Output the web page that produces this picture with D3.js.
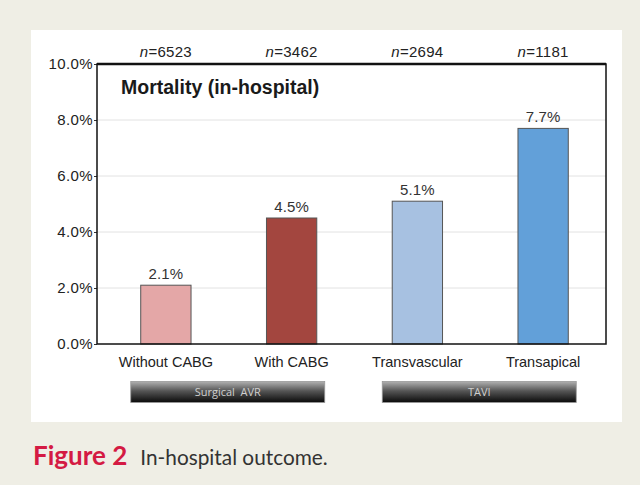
<!DOCTYPE html>
<meta charset="utf-8">
<style>
body { margin: 0; background: #efeee5; }
svg { display: block; }
</style>
<body>
<script src="https://d3js.org/d3.v7.min.js"></script>
<script>

// data
var categories = ["Without CABG", "With CABG", "Transvascular", "Transapical"];
var mortality = [2.1, 4.5, 5.1, 7.7];
var nCounts = [6523, 3462, 2694, 1181];
var barColors = ["#e4a7a7", "#a3463f", "#a7c1e1", "#62a0d9"];
var groupNames = ["Surgical  AVR", "TAVI"];
var groupFirst = [0, 2];
var groupLast = [1, 3];
var yTicks = [0, 2, 4, 6, 8, 10];

var W = 640, H = 485;
var plot = {left: 97, right: 606, top: 64, bottom: 344};
var chartFont = "Liberation Sans, Arial, sans-serif";

var svg = d3.select("body").append("svg")
    .attr("width", W)
    .attr("height", H);

// white panel
svg.append("rect")
    .attr("x", 31).attr("y", 30)
    .attr("width", 591).attr("height", 392)
    .attr("fill", "#fff");

var x = d3.scaleBand()
    .domain(categories)
    .range([plot.left + 6, plot.right])
    .paddingInner(0.6)
    .paddingOuter(0.3);

var y = d3.scaleLinear()
    .domain([0, 10])
    .range([plot.bottom, plot.top]);

// gradient for the group buttons
var defs = svg.append("defs");
var grad = defs.append("linearGradient")
    .attr("id", "btn")
    .attr("x1", 0).attr("y1", 0).attr("x2", 0).attr("y2", 1);
grad.append("stop").attr("offset", "0%").attr("stop-color", "#b0b0b0");
grad.append("stop").attr("offset", "45%").attr("stop-color", "#555");
grad.append("stop").attr("offset", "100%").attr("stop-color", "#0a0a0a");

// gridlines
svg.append("g")
    .selectAll("line")
    .data(yTicks.filter(function(d) { return d > 0 && d < 10; }))
    .enter().append("line")
      .attr("x1", plot.left).attr("x2", plot.right)
      .attr("y1", function(d) { return y(d); })
      .attr("y2", function(d) { return y(d); })
      .attr("stroke", "#e2e2e2")
      .attr("stroke-width", 1);

// y axis
var yAxis = d3.axisLeft(y)
    .tickValues(yTicks)
    .tickSize(3)
    .tickFormat(function(d) { return d.toFixed(1) + "%"; });

var ya = svg.append("g")
    .attr("transform", "translate(" + plot.left + ",0)")
    .call(yAxis);
ya.select(".domain").remove();
ya.selectAll("line").attr("stroke", "#333");
ya.selectAll("text")
    .attr("font-family", chartFont)
    .attr("font-size", 15)
    .attr("letter-spacing", 0.4)
    .attr("fill", "#222")
    .attr("x", -4);

// bars
svg.selectAll(".bar")
    .data(categories)
    .enter().append("rect")
      .attr("class", "bar")
      .attr("x", function(d) { return x(d); })
      .attr("y", function(d, i) { return y(mortality[i]); })
      .attr("width", x.bandwidth())
      .attr("height", function(d, i) { return y(0) - y(mortality[i]); })
      .attr("fill", function(d, i) { return barColors[i]; })
      .attr("stroke", "#555")
      .attr("stroke-width", 1);

// value labels
svg.selectAll(".val")
    .data(categories)
    .enter().append("text")
      .attr("x", function(d) { return x(d) + x.bandwidth() / 2; })
      .attr("y", function(d, i) { return y(mortality[i]) - 6; })
      .attr("text-anchor", "middle")
      .attr("font-family", chartFont)
      .attr("font-size", 15)
      .attr("letter-spacing", 0.2)
      .attr("fill", "#333")
      .text(function(d, i) { return mortality[i].toFixed(1) + "%"; });

// frame
svg.append("rect")
    .attr("x", plot.left).attr("y", plot.top)
    .attr("width", plot.right - plot.left)
    .attr("height", plot.bottom - plot.top)
    .attr("fill", "none")
    .attr("stroke", "#111")
    .attr("stroke-width", 1.5);
svg.append("line")
    .attr("x1", plot.left).attr("x2", plot.right)
    .attr("y1", plot.top).attr("y2", plot.top)
    .attr("stroke", "#111")
    .attr("stroke-width", 2.5);

// panel title
svg.append("text")
    .attr("x", 121).attr("y", 94)
    .attr("font-family", chartFont)
    .attr("font-size", 19.5)
    .attr("font-weight", "bold")
    .attr("fill", "#1a1a1a")
    .text("Mortality (in-hospital)");

// n counts above the frame
var nt = svg.selectAll(".n")
    .data(categories)
    .enter().append("text")
      .attr("x", function(d) { return x(d) + x.bandwidth() / 2; })
      .attr("y", 57)
      .attr("text-anchor", "middle")
      .attr("font-family", chartFont)
      .attr("font-size", 15)
      .attr("letter-spacing", 0.3)
      .attr("fill", "#222");
nt.append("tspan").attr("font-style", "italic").text("n");
nt.append("tspan").text(function(d, i) { return "=" + nCounts[i]; });

// category labels
svg.selectAll(".cat")
    .data(categories)
    .enter().append("text")
      .attr("x", function(d) { return x(d) + x.bandwidth() / 2; })
      .attr("y", 367)
      .attr("text-anchor", "middle")
      .attr("font-family", chartFont)
      .attr("font-size", 14.5)
      .attr("fill", "#222")
      .text(function(d) { return d; });

// group buttons, centred under their pair of bars
groupNames.forEach(function(g, i) {
  var a = x(categories[groupFirst[i]]);
  var b = x(categories[groupLast[i]]) + x.bandwidth();
  var mid = (a + b) / 2 - 1, half = 97;
  svg.append("rect")
      .attr("x", mid - half).attr("y", 381.5)
      .attr("width", 2 * half).attr("height", 21)
      .attr("fill", "url(#btn)")
      .attr("stroke", "#999")
      .attr("stroke-width", 0.8);
  svg.append("text")
      .attr("x", mid).attr("y", 396)
      .attr("text-anchor", "middle")
      .attr("font-family", "Open Sans, sans-serif")
      .attr("font-size", 11)
      .attr("fill", "#cfcfcf")
      .style("white-space", "pre")
      .text(g);
});

// caption
var cap = svg.append("text")
    .attr("x", 33).attr("y", 465)
    .attr("font-family", "Lato, sans-serif");
cap.append("tspan")
    .attr("font-weight", "bold")
    .attr("font-size", 26)
    .attr("fill", "#d41a43")
    .text("Figure 2");
cap.append("tspan")
    .attr("dx", 13)
    .attr("font-size", 20.8)
    .attr("fill", "#333")
    .text("In-hospital outcome.");

</script>
</body>
